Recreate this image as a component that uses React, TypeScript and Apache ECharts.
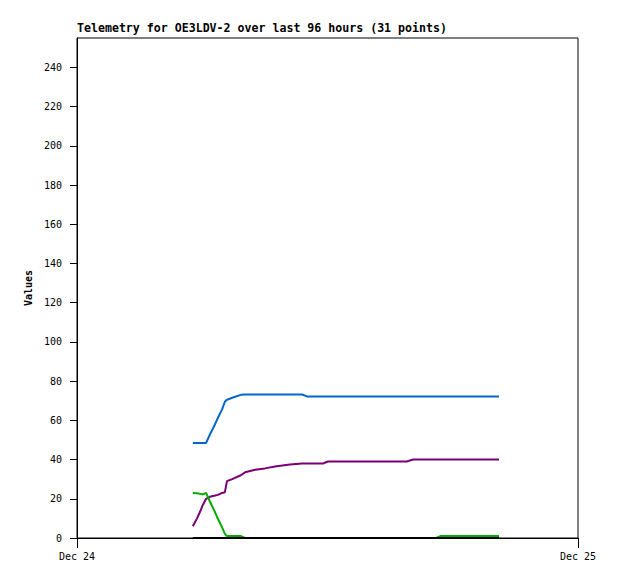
import React, { useEffect, useRef } from "react";
import * as echarts from "echarts";

// Times on Dec 24 (HH:MM), 31 telemetry samples
const times = [
  "05:33", "05:45", "05:54", "06:02", "06:11", "06:22", "06:34", "06:45", "06:57", "07:05",
  "07:11", "07:26", "07:51", "08:03", "08:32", "09:00", "09:29", "10:12", "10:47", "11:01",
  "11:47", "12:01", "12:50", "13:33", "15:48", "16:06", "17:12", "17:26", "18:21", "19:18",
  "20:13",
];

const blueValues = [
  48.5, 48.5, 48.5, 48.5, 48.5, 52.8, 57, 61.3, 65.6, 69.5,
  70.5, 71.5, 73, 73.2, 73.2, 73.2, 73.2, 73.2, 73.2, 72.2,
  72.2, 72.2, 72.2, 72.2, 72.2, 72.2, 72.2, 72.2, 72.2, 72.2,
  72.2,
];

const purpleValues = [
  6, 10, 13.5, 17, 20, 21, 21.5, 22, 23, 23.3,
  29, 30, 32, 33.5, 34.8, 35.5, 36.5, 37.5, 38, 38,
  38, 39, 39, 39, 39, 40, 40, 40, 40, 40,
  40,
];

const greenValues = [
  23, 22.8, 22.5, 22.2, 23, 18.6, 14.2, 9.8, 5.4, 2.1,
  1, 1, 1, 0, 0, 0, 0, 0, 0, 0,
  0, 0, 0, 0, 0, 0, 0, 1, 1, 1,
  1,
];

const blackValues = [
  0, 0, 0, 0, 0, 0, 0, 0, 0, 0,
  0, 0, 0, 0, 0, 0, 0, 0, 0, 0,
  0, 0, 0, 0, 0, 0, 0, 0, 0, 0,
  0,
];

const yTicks = [0, 20, 40, 60, 80, 100, 120, 140, 160, 180, 200, 220, 240];
const xTickLabels = ["Dec 24", "Dec 25"];

const titleText = "Telemetry for OE3LDV-2 over last 96 hours (31 points)";
const yAxisName = "Values";

const FONT = "DejaVu Sans Mono";

// hours since Dec 24 00:00
function toHours(hhmm: string): number {
  const [h, m] = hhmm.split(":").map(Number);
  return h + m / 60;
}

export default function App() {
  const ref = useRef<HTMLDivElement>(null);

  useEffect(() => {
    if (!ref.current) return;
    const chart = echarts.init(ref.current, null, { renderer: "svg" });
    const mk = (vals: number[]) => times.map((t, i) => [toHours(t), vals[i]]);
    const seriesDefs = [
      { name: "blue", data: blueValues, color: "#0066cc" },
      { name: "purple", data: purpleValues, color: "#770077" },
      { name: "green", data: greenValues, color: "#00aa00" },
      { name: "black", data: blackValues, color: "#000000" },
    ];
    chart.setOption({
      animation: false,
      backgroundColor: "#ffffff",
      title: {
        text: titleText,
        left: 77,
        top: 22,
        padding: 0,
        textStyle: {
          fontFamily: FONT,
          fontSize: 11.6,
          fontWeight: "bold",
          color: "#000",
        },
      },
      grid: {
        left: 77,
        top: 38,
        right: 40,
        bottom: 41,
        show: true,
        borderColor: "#000",
        borderWidth: 1,
        backgroundColor: "transparent",
      },
      xAxis: {
        type: "value",
        min: 0,
        max: 24,
        interval: 24,
        axisLine: { show: true, onZero: false, lineStyle: { color: "#000", width: 1 } },
        axisTick: {
          show: true,
          length: 10,
          lineStyle: { color: "#000" },
        },
        axisLabel: {
          formatter: (v: number) => (v === 0 ? xTickLabels[0] : xTickLabels[1]),
          fontFamily: FONT,
          fontSize: 10,
          color: "#000",
          margin: 13,
          showMinLabel: true,
          showMaxLabel: true,
        },
        splitLine: { show: false },
      },
      yAxis: {
        type: "value",
        min: 0,
        max: 255,
        interval: 20,
        name: yAxisName,
        nameLocation: "middle",
        nameGap: 35,
        nameRotate: 90,
        nameTextStyle: {
          fontFamily: FONT,
          fontSize: 10,
          fontWeight: "bold",
          color: "#000",
        },
        axisLine: { show: true, lineStyle: { color: "#000", width: 1 } },
        axisTick: {
          show: true,
          length: 7,
          customValues: yTicks,
          lineStyle: { color: "#000" },
        },
        axisLabel: {
          customValues: yTicks,
          fontFamily: FONT,
          fontSize: 10,
          color: "#000",
          margin: 15,
        },
        splitLine: { show: false },
      },
      series: seriesDefs.map((s) => ({
        name: s.name,
        type: "line",
        data: mk(s.data),
        showSymbol: false,
        symbol: "none",
        lineStyle: { color: s.color, width: 2 },
        itemStyle: { color: s.color },
        emphasis: { disabled: true },
      })),
    });
    return () => chart.dispose();
  }, []);

  return (
    <div
      ref={ref}
      style={{ position: "fixed", left: 0, top: 0, width: 618, height: 579 }}
    />
  );
}
